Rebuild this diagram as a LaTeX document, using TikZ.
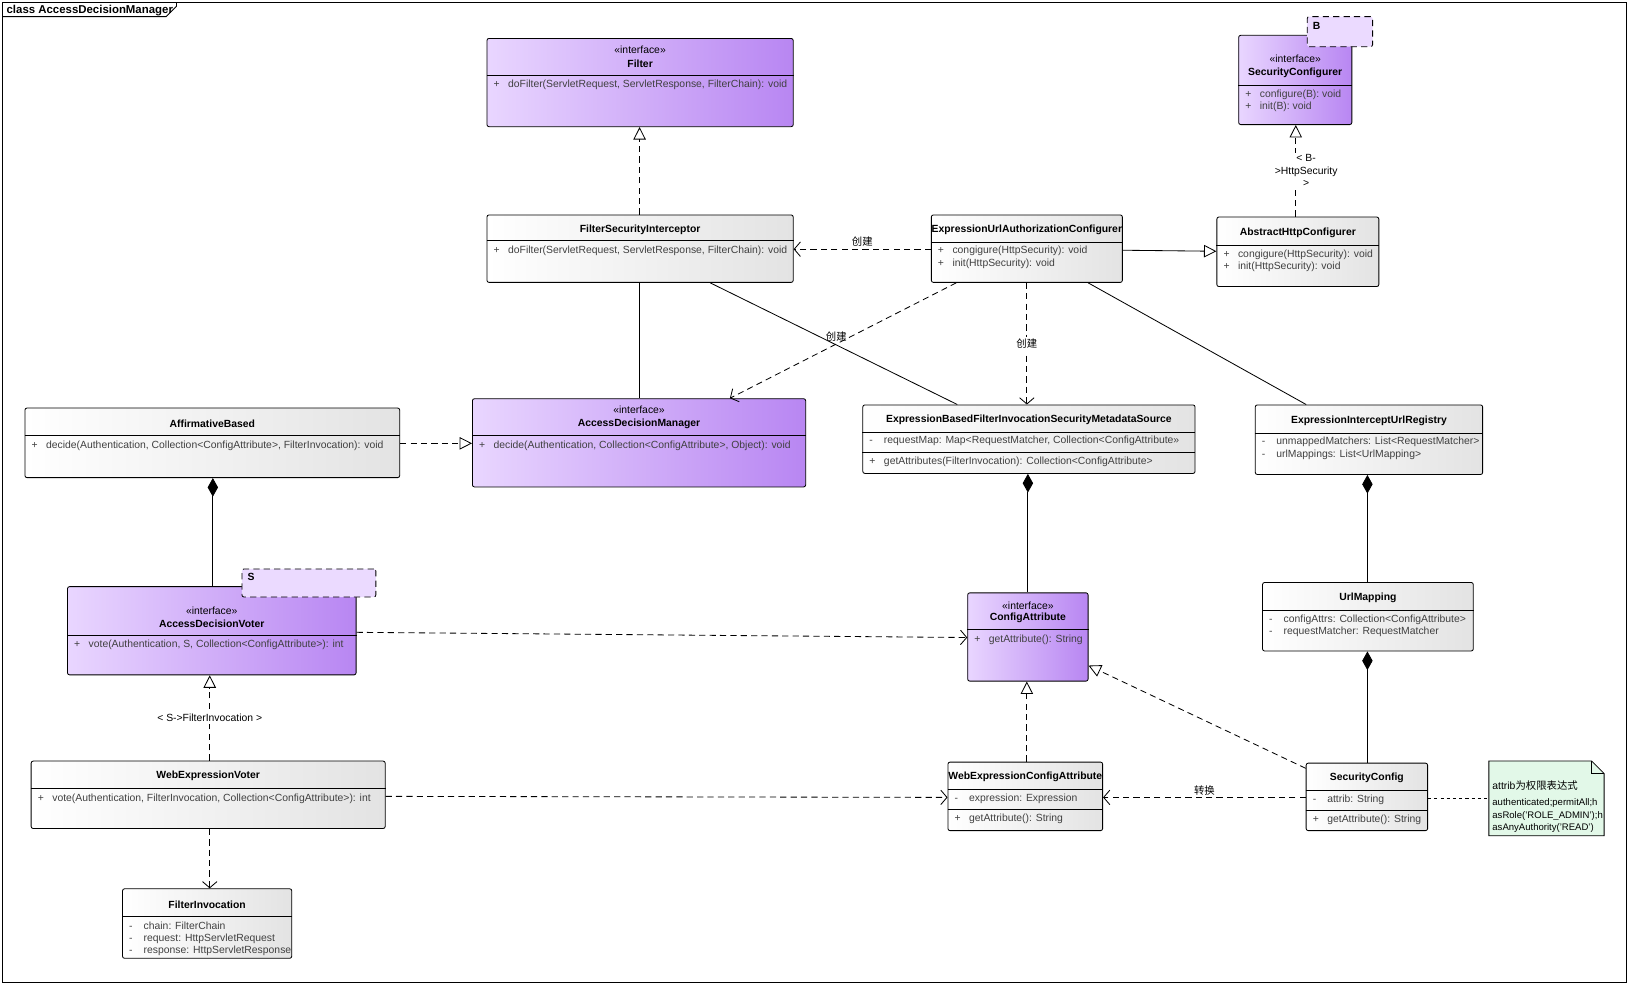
\documentclass[tikz,border=0pt]{standalone}
\usepackage{fontspec}
\setmainfont{Liberation Sans}
\newfontfamily\cjk{Noto Sans CJK SC}
\usepackage{tikz}
\usetikzlibrary{arrows.meta, fit}

\definecolor{ifaceL}{HTML}{E9D6FF}
\definecolor{ifaceR}{HTML}{B886F2}
\definecolor{noteC}{HTML}{E2F8E8}
\definecolor{memC}{HTML}{404040}

\tikzset{
  cls/.style={draw, rounded corners=1pt, left color=white, right color=gray!22, inner sep=0pt},
  iface/.style={draw, rounded corners=1pt, left color=ifaceL, right color=ifaceR, inner sep=0pt},
  tmpl/.style={draw, dash pattern=on 3pt off 2pt, rounded corners=1pt, fill=ifaceL!90, inner sep=0pt},
  title/.style={font=\fontsize{5}{6}\selectfont\bfseries, inner sep=0pt},
  stereo/.style={inner sep=0pt},
  mem/.style={anchor=west, inner sep=0pt, text=memC},
  lbl/.style={inner sep=1pt, align=center},
  dep/.style={dash pattern=on 3pt off 2pt, -{Straight Barb[length=3pt,width=7pt]}},
  real/.style={dash pattern=on 3pt off 2pt, -{Triangle[open,length=6pt,width=6pt]}},
  gen/.style={-{Triangle[open,length=6pt,width=6pt]}},
  comp/.style={{Diamond[fill=black,length=9pt,width=5pt]}-},
}
\newcommand{\mem}[4]{\node[mem] at (#1+6,#2) {\makebox[7pt][l]{#3}#4};}
\newcommand{\sep}[2]{\draw (#1.west |- 0,#2) -- (#1.east |- 0,#2);}

\begin{document}
\begin{tikzpicture}[x=0.5pt, y=-0.5pt, font=\fontsize{5}{6}\selectfont, line width=0.4pt]
        \useasboundingbox (0,0) rectangle (1568,948);
        % Frame
        \draw (2,2) rectangle (1566,946);
        \draw (2,16) -- (160,16) -- (170,6) -- (170,2);
        \node[anchor=west, font=\fontsize{5.5}{6}\selectfont\bfseries, inner sep=0pt] (frame) at (6,10) {class AccessDecisionManager};

        % Classes
        \node[iface, fit={(469,37)(764,122)}] (filter) {};
        \node[stereo] at (filter.north |- 0,48) {«interface»};
        \node[title] at (filter.north |- 0,61) {Filter};
        \sep{filter}{73}
        \mem{469}{82}{+}{doFilter(ServletRequest, ServletResponse, FilterChain): void}

        \node[iface, fit={(1193,34)(1302,120)}] (seccfg) {};
        \node[tmpl, fit={(1259,16)(1322,45)}] (tplB) {};
        \node[title, anchor=west] at (1264,25) {B};
        \node[stereo] at (seccfg.north |- 0,57) {«interface»};
        \node[title] at (seccfg.north |- 0,70) {SecurityConfigurer};
        \sep{seccfg}{82}
        \mem{1193}{91}{+}{configure(B): void}
        \mem{1193}{103}{+}{init(B): void}

        \node[cls, fit={(469,207)(764,272)}] (fsi) {};
        \node[title] at (fsi.north |- 0,221) {FilterSecurityInterceptor};
        \sep{fsi}{232}
        \mem{469}{242}{+}{doFilter(ServletRequest, ServletResponse, FilterChain): void}

        \node[cls, fit={(897,207)(1081,272)}] (euac) {};
        \node[title] at (euac.north |- 0,221) {ExpressionUrlAuthorizationConfigurer};
        \sep{euac}{233}
        \mem{897}{242}{+}{congigure(HttpSecurity): void}
        \mem{897}{254}{+}{init(HttpSecurity): void}

        \node[cls, fit={(1172,209)(1328,276)}] (ahc) {};
        \node[title] at (ahc.north |- 0,224) {AbstractHttpConfigurer};
        \sep{ahc}{236}
        \mem{1172}{245}{+}{congigure(HttpSecurity): void}
        \mem{1172}{257}{+}{init(HttpSecurity): void}

        \node[iface, fit={(455,384)(776,469)}] (adm) {};
        \node[stereo] at (adm.north |- 0,395) {«interface»};
        \node[title] at (adm.north |- 0,408) {AccessDecisionManager};
        \sep{adm}{419}
        \mem{455}{429}{+}{decide(Authentication, Collection<ConfigAttribute>, Object): void}

        \node[cls, fit={(24,393)(385,460)}] (aff) {};
        \node[title] at (aff.north |- 0,408) {AffirmativeBased};
        \sep{aff}{419}
        \mem{24}{429}{+}{decide(Authentication, Collection<ConfigAttribute>, FilterInvocation): void}

        \node[cls, fit={(831,390)(1151,456)}] (ebf) {};
        \node[title] at (ebf.north |- 0,404) {ExpressionBasedFilterInvocationSecurityMetadataSource};
        \sep{ebf}{416}
        \mem{831}{425}{-}{requestMap: Map<RequestMatcher, Collection<ConfigAttribute>>}
        \sep{ebf}{436}
        \mem{831}{445}{+}{getAttributes(FilterInvocation): Collection<ConfigAttribute>}

        \node[cls, fit={(1209,390)(1428,457)}] (eiur) {};
        \node[title] at (eiur.north |- 0,405) {ExpressionInterceptUrlRegistry};
        \sep{eiur}{417}
        \mem{1209}{426}{-}{unmappedMatchers: List<RequestMatcher>}
        \mem{1209}{438}{-}{urlMappings: List<UrlMapping>}

        \node[iface, fit={(65,565)(343,650)}] (adv) {};
        \node[tmpl, fit={(233,548)(362,575)}] (tplS) {};
        \node[title, anchor=west] at (238,556) {S};
        \node[stereo] at (adv.north |- 0,588) {«interface»};
        \node[title] at (adv.north |- 0,601) {AccessDecisionVoter};
        \sep{adv}{612}
        \mem{65}{621}{+}{vote(Authentication, S, Collection<ConfigAttribute>): int}

        \node[iface, fit={(932,571)(1048,656)}] (cattr) {};
        \node[stereo] at (cattr.north |- 0,583) {«interface»};
        \node[title] at (cattr.north |- 0,595) {ConfigAttribute};
        \sep{cattr}{606}
        \mem{932}{616}{+}{getAttribute(): String}

        \node[cls, fit={(1216,561)(1419,627)}] (urlmap) {};
        \node[title] at (urlmap.north |- 0,576) {UrlMapping};
        \sep{urlmap}{588}
        \mem{1216}{597}{-}{configAttrs: Collection<ConfigAttribute>}
        \mem{1216}{609}{-}{requestMatcher: RequestMatcher}

        \node[cls, fit={(30,733)(371,798)}] (wev) {};
        \node[title] at (wev.north |- 0,747) {WebExpressionVoter};
        \sep{wev}{759}
        \mem{30}{769}{+}{vote(Authentication, FilterInvocation, Collection<ConfigAttribute>): int}

        \node[cls, fit={(913,734)(1062,800)}] (weca) {};
        \node[title] at (weca.north |- 0,748) {WebExpressionConfigAttribute};
        \sep{weca}{760}
        \mem{913}{769}{-}{expression: Expression}
        \sep{weca}{780}
        \mem{913}{789}{+}{getAttribute(): String}

        \node[cls, fit={(1258,735)(1375,800)}] (scfg) {};
        \node[title] at (scfg.north |- 0,749) {SecurityConfig};
        \sep{scfg}{761}
        \mem{1258}{770}{-}{attrib: String}
        \sep{scfg}{781}
        \mem{1258}{790}{+}{getAttribute(): String}

        \node[cls, fit={(118,856)(281,923)}] (finv) {};
        \node[title] at (finv.north |- 0,871) {FilterInvocation};
        \sep{finv}{883}
        \mem{118}{892}{-}{chain: FilterChain}
        \mem{118}{904}{-}{request: HttpServletRequest}
        \mem{118}{916}{-}{response: HttpServletResponse}

        % Note
        \node[fit={(1434,733)(1545,805)}, inner sep=0pt] (note) {};
        \draw[fill=noteC] (1434,733) -- (1533,733) -- (1545,745) -- (1545,805) -- (1434,805) -- cycle;
        \draw (1533,733) -- (1533,745) -- (1545,745);
        \node[anchor=west, inner sep=0pt] at (1437,757) {attrib{\cjk 为权限表达式}};
        \node[anchor=north west, inner sep=0pt, align=left, font=\fontsize{4.6}{6}\selectfont] at (1437,769)
          {authenticated;permitAll;h\\asRole('ROLE\_ADMIN');h\\asAnyAuthority('READ')};

        % Connectors
        \draw[real] (fsi.north -| 616,0) -- (filter.south -| 616,0);
        \draw[dep] (euac.west |- 0,240) -- node[above, lbl, font=\cjk\fontsize{5}{6}\selectfont] {创建} (fsi.east |- 0,240);
        \draw[gen] (euac.east |- 0,241) -- (ahc.west |- 0,242);
        \draw[real] (ahc.north -| 1248,0) -- node[lbl, fill=white, xshift=5pt] {< B-\\>HttpSecurity\\>} (seccfg.south -| 1248,0);
        \draw (fsi.south -| 616,0) -- (adm.north -| 616,0);
        \draw (fsi.south -| 684,0) -- (ebf.north -| 922,0);
        \draw[dep] (euac.south -| 921,0) -- node[pos=0.53, above, lbl, font=\cjk\fontsize{5}{6}\selectfont] {创建} (adm.north -| 703,0);
        \draw[dep] (euac.south -| 989,0) -- node[lbl, fill=white, font=\cjk\fontsize{5}{6}\selectfont] {创建} (ebf.north -| 989,0);
        \draw (euac.south -| 1048,0) -- (eiur.north -| 1258,0);
        \draw[real] (aff.east |- 0,427) -- (adm.west |- 0,427);
        \draw[comp] (aff.south -| 205,0) -- (adv.north -| 205,0);
        \draw[comp] (ebf.south -| 990,0) -- (cattr.north -| 990,0);
        \draw[comp] (eiur.south -| 1317,0) -- (urlmap.north -| 1317,0);
        \draw[comp] (urlmap.south -| 1317,0) -- (scfg.north -| 1317,0);
        \draw[dep] (adv.east |- 0,609) -- (cattr.west |- 0,614);
        \draw[real] (wev.north -| 202,0) -- node[lbl, fill=white] {< S->FilterInvocation >} (adv.south -| 202,0);
        \draw[dep] (wev.east |- 0,767) -- (weca.west |- 0,768);
        \draw[dep] (wev.south -| 202,0) -- (finv.north -| 202,0);
        \draw[real] (weca.north -| 989,0) -- (cattr.south -| 989,0);
        \draw[real] (scfg.west |- 0,740) -- (cattr.east |- 0,641);
        \draw[dep] (scfg.west |- 0,768) -- node[above, lbl, font=\cjk\fontsize{5}{6}\selectfont] {转换} (weca.east |- 0,768);
        \draw[dash pattern=on 1.5pt off 1.5pt] (scfg.east |- 0,769) -- (note.west |- 0,769);
\end{tikzpicture}
\end{document}
